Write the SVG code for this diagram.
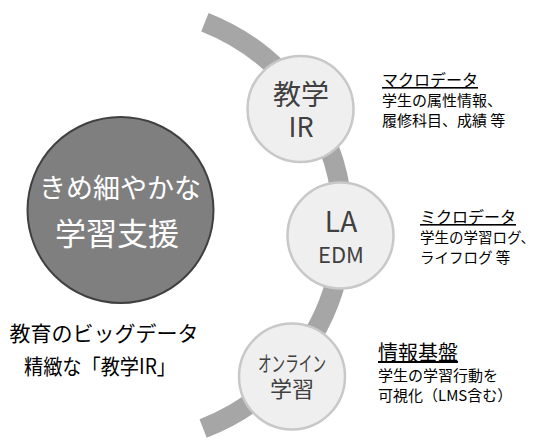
<svg xmlns="http://www.w3.org/2000/svg" width="535" height="441" viewBox="0 0 535 441">
<style>
text{font-family:"Noto Sans CJK JP","Noto Sans",sans-serif;}
.node{fill:#efefef;stroke:#c8c8c8;stroke-width:2.5;}
.nt{fill:#404040;text-anchor:middle;}
.h{fill:#000;font-size:16px;text-decoration:underline;}
.d{fill:#000;font-size:15px;}
.lt{fill:#000;font-size:21px;text-anchor:middle;}
</style>
<rect width="535" height="441" fill="#fff"/>
<g id="connectors">
<path d="M 204.9 22.2 A 218 218 0 0 1 203.1 428.5" fill="none" stroke="#a6a6a6" stroke-width="20"/>
</g>
<g id="center">
<circle cx="120.5" cy="210" r="93" fill="#7f7f7f" stroke="#404040" stroke-width="2"/>
<text x="120" y="198" fill="#fff" font-size="27" text-anchor="middle">きめ細やかな</text>
<text x="117" y="245" fill="#fff" font-size="31" text-anchor="middle">学習支援</text>
</g>
<g id="caption">
<text class="lt" x="104" y="341">教育のビッグデータ</text>
<text class="lt" x="100" y="374" textLength="152" lengthAdjust="spacingAndGlyphs">精緻な「教学IR」</text>
</g>
<g id="node-ir">
<circle class="node" cx="300.5" cy="109" r="53"/>
<text class="nt" x="301" y="105" font-size="28">教学</text>
<text class="nt" x="301" y="137" font-size="27">IR</text>
</g>
<g id="node-la">
<circle class="node" cx="340.5" cy="235.5" r="53"/>
<text class="nt" x="341" y="232" font-size="28">LA</text>
<text class="nt" x="341" y="263" font-size="22">EDM</text>
</g>
<g id="node-online">
<circle class="node" cx="292" cy="376.5" r="53"/>
<text class="nt" x="292" y="371" font-size="21" textLength="68" lengthAdjust="spacingAndGlyphs">オンライン</text>
<text class="nt" x="292" y="397" font-size="22">学習</text>
</g>
<g id="desc-macro">
<text class="h" x="382" y="86">マクロデータ</text>
<text class="d" x="382" y="106">学生の属性情報、</text>
<text class="d" x="382" y="126">履修科目、成績 等</text>
</g>
<g id="desc-micro">
<text class="h" x="420" y="223">ミクロデータ</text>
<text class="d" x="420" y="243" style="font-size:14.5px">学生の学習ログ、</text>
<text class="d" x="420" y="263" style="font-size:14.5px">ライフログ 等</text>
</g>
<g id="desc-infra">
<text class="h" x="378" y="360" style="font-size:20px">情報基盤</text>
<text class="d" x="378" y="381">学生の学習行動を</text>
<text class="d" x="378" y="401">可視化（LMS含む）</text>
</g>
</svg>
